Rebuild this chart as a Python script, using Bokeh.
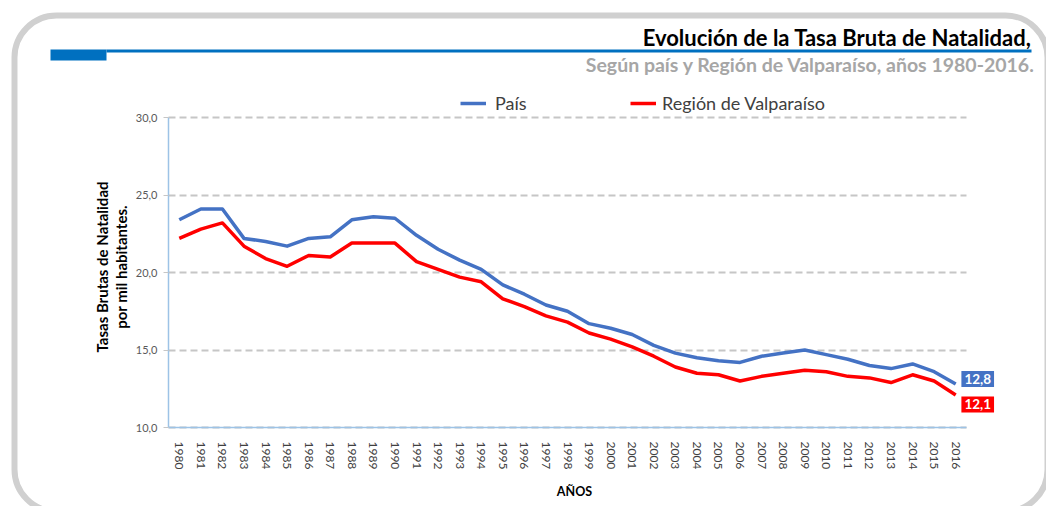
from bokeh.plotting import figure
from bokeh.models import (Label, BoxAnnotation, Legend, LegendItem, FixedTicker,
                          LinearAxis, Grid, Range1d)
from bokeh.embed import file_html
from bokeh.resources import INLINE

# ---------------- data ----------------
years = [str(y) for y in range(1980, 2017)]
pais = [23.4, 24.1, 24.1, 22.2, 22.0, 21.7, 22.2, 22.3, 23.4, 23.6, 23.5, 22.4,
        21.5, 20.8, 20.2, 19.2, 18.6, 17.9, 17.5, 16.7, 16.4, 16.0, 15.3, 14.8,
        14.5, 14.3, 14.2, 14.6, 14.8, 15.0, 14.7, 14.4, 14.0, 13.8, 14.1, 13.6, 12.8]
valparaiso = [22.2, 22.8, 23.2, 21.7, 20.9, 20.4, 21.1, 21.0, 21.9, 21.9, 21.9, 20.7,
              20.2, 19.7, 19.4, 18.3, 17.8, 17.2, 16.8, 16.1, 15.7, 15.2, 14.6, 13.9,
              13.5, 13.4, 13.0, 13.3, 13.5, 13.7, 13.6, 13.3, 13.2, 12.9, 13.4, 13.0, 12.1]
series_names = ["País", "Región de Valparaíso"]
y_ticks = [10, 15, 20, 25, 30]
y_tick_labels = ["10,0", "15,0", "20,0", "25,0", "30,0"]
title_text = "Evolución de la Tasa Bruta de Natalidad,"
subtitle_text = "Según país y Región de Valparaíso, años 1980-2016."
y_title_lines = ["Tasas Brutas de Natalidad", "por mil habitantes."]
x_title = "AÑOS"

BLUE = "#4472C4"
RED = "#FF0000"
FONT = "Lato"

# ---------------- layout (pixels) ----------------
W, H = 1046, 506
PL, PR, PT, PB = 168, 966, 117, 427          # plot area edges

xs = [int(y) for y in years]
n = len(xs)
kx = (PR - PL) / n                            # px per year
x_lo = xs[0] - 0.5
x_hi = xs[-1] + 0.5
ky = (PB - PT) / (y_ticks[-1] - y_ticks[0])   # px per unit
x_start = x_lo - PL / kx
x_end = x_lo + (W - PL) / kx
y_start = y_ticks[0] - (H - PB) / ky
y_end = y_ticks[-1] + PT / ky

def dx(px):
    return x_start + px / kx
def dy(py):
    return y_end - py / ky

p = figure(width=W, height=H, x_range=Range1d(x_start, x_end),
           y_range=Range1d(y_start, y_end),
           output_backend="svg", toolbar_location=None,
           x_axis_location=None, y_axis_location=None,
           min_border=0, min_border_left=0, min_border_right=0,
           min_border_top=0, min_border_bottom=0)
p.outline_line_color = None
p.background_fill_color = "white"
p.border_fill_color = "white"
p.grid.visible = False

# grid
p.add_layout(Grid(dimension=1, ticker=FixedTicker(ticks=y_ticks),
                  cross_bounds=(x_lo, x_hi),
                  grid_line_color="#c6c6c6", grid_line_width=2,
                  grid_line_dash="7 4"))

r_pais = p.line(xs, pais, line_color=BLUE, line_width=3.5, line_join="round")
r_val = p.line(xs, valparaiso, line_color=RED, line_width=3.5, line_join="round")

# axes, drawn inside the canvas at fixed positions
yaxis = LinearAxis(fixed_location=x_lo, bounds=(y_ticks[0], y_ticks[-1]),
                   ticker=FixedTicker(ticks=y_ticks),
                   major_label_overrides={t: l for t, l in zip(y_ticks, y_tick_labels)},
                   axis_line_color="#9DC3E6", axis_line_width=1.5,
                   major_tick_line_color="#c6c6c6", major_tick_out=5, major_tick_in=0,
                   minor_tick_line_color=None,
                   major_label_text_font=FONT, major_label_text_font_size="11px",
                   major_label_text_color="#595959", major_label_standoff=6)
p.add_layout(yaxis, "left")

xaxis = LinearAxis(fixed_location=y_ticks[0], bounds=(x_lo, x_hi),
                   ticker=FixedTicker(ticks=xs),
                   major_label_overrides={x: y for x, y in zip(xs, years)},
                   axis_line_color="#9DC3E6", axis_line_width=1.5,
                   major_tick_line_color=None, minor_tick_line_color=None,
                   major_label_orientation="vertical",
                   major_label_text_font=FONT, major_label_text_font_size="12px",
                   major_label_text_color="#404040", major_label_standoff=8)
p.add_layout(xaxis, "below")

# rounded outer frame
p.add_layout(BoxAnnotation(left=dx(14), right=dx(1047), top=dy(15), bottom=dy(511),
                           fill_alpha=0, line_color="#d0d0d0", line_alpha=1,
                           line_width=6, border_radius=42, level="underlay"))
# header bars
p.add_layout(BoxAnnotation(left=dx(50), right=dx(106), top=dy(49), bottom=dy(60),
                           fill_color="#0070C0", fill_alpha=1, line_color=None))
p.add_layout(BoxAnnotation(left=dx(106), right=dx(1031), top=dy(49), bottom=dy(52),
                           fill_color="#0070C0", fill_alpha=1, line_color=None))

# titles
p.add_layout(Label(x=dx(1031), y=dy(37), text=title_text,
                   text_align="right", text_baseline="middle",
                   text_font=FONT, text_font_style="bold",
                   text_font_size="22px", text_color="#000000"))
p.add_layout(Label(x=dx(1035), y=dy(63.5), text=subtitle_text,
                   text_align="right", text_baseline="middle",
                   text_font=FONT, text_font_style="bold",
                   text_font_size="19.5px", text_color="#A6A6A6"))

# y title (two lines, rotated)
for line, px in zip(y_title_lines, [101, 120]):
    p.add_layout(Label(x=dx(px), y=dy(266.5), text=line, angle=90, angle_units="deg",
                       text_align="center", text_baseline="middle",
                       text_font=FONT, text_font_style="bold",
                       text_font_size="15px", text_color="#000000"))
# x title
p.add_layout(Label(x=dx(574), y=dy(490.5), text=x_title,
                   text_align="center", text_baseline="middle",
                   text_font=FONT, text_font_style="bold",
                   text_font_size="12.5px", text_color="#000000"))

# legends
for name, rend, gx, stand in [(series_names[0], r_pais, 460, 9),
                              (series_names[1], r_val, 630, 6)]:
    lg = Legend(items=[LegendItem(label=name, renderers=[rend])],
                location=(gx, H - 114), orientation="horizontal",
                padding=0, margin=0, border_line_color=None,
                background_fill_alpha=0, glyph_width=26, glyph_height=20,
                label_standoff=stand, label_text_font=FONT,
                label_text_font_size="18px", label_text_color="#404040")
    p.add_layout(lg, "center")

# end value labels
for vals, col, yoff in [(pais, BLUE, 5), (valparaiso, RED, -9.5)]:
    txt = f"{vals[-1]:.1f}".replace(".", ",")
    p.add_layout(Label(x=xs[-1], y=vals[-1], text=txt,
                       x_offset=22, y_offset=yoff,
                       text_align="center", text_baseline="middle",
                       text_font=FONT, text_font_style="bold",
                       text_font_size="13.5px", text_color="white",
                       background_fill_color=col, background_fill_alpha=1,
                       padding=3))

open("out.html", "w").write(file_html(p, INLINE))
